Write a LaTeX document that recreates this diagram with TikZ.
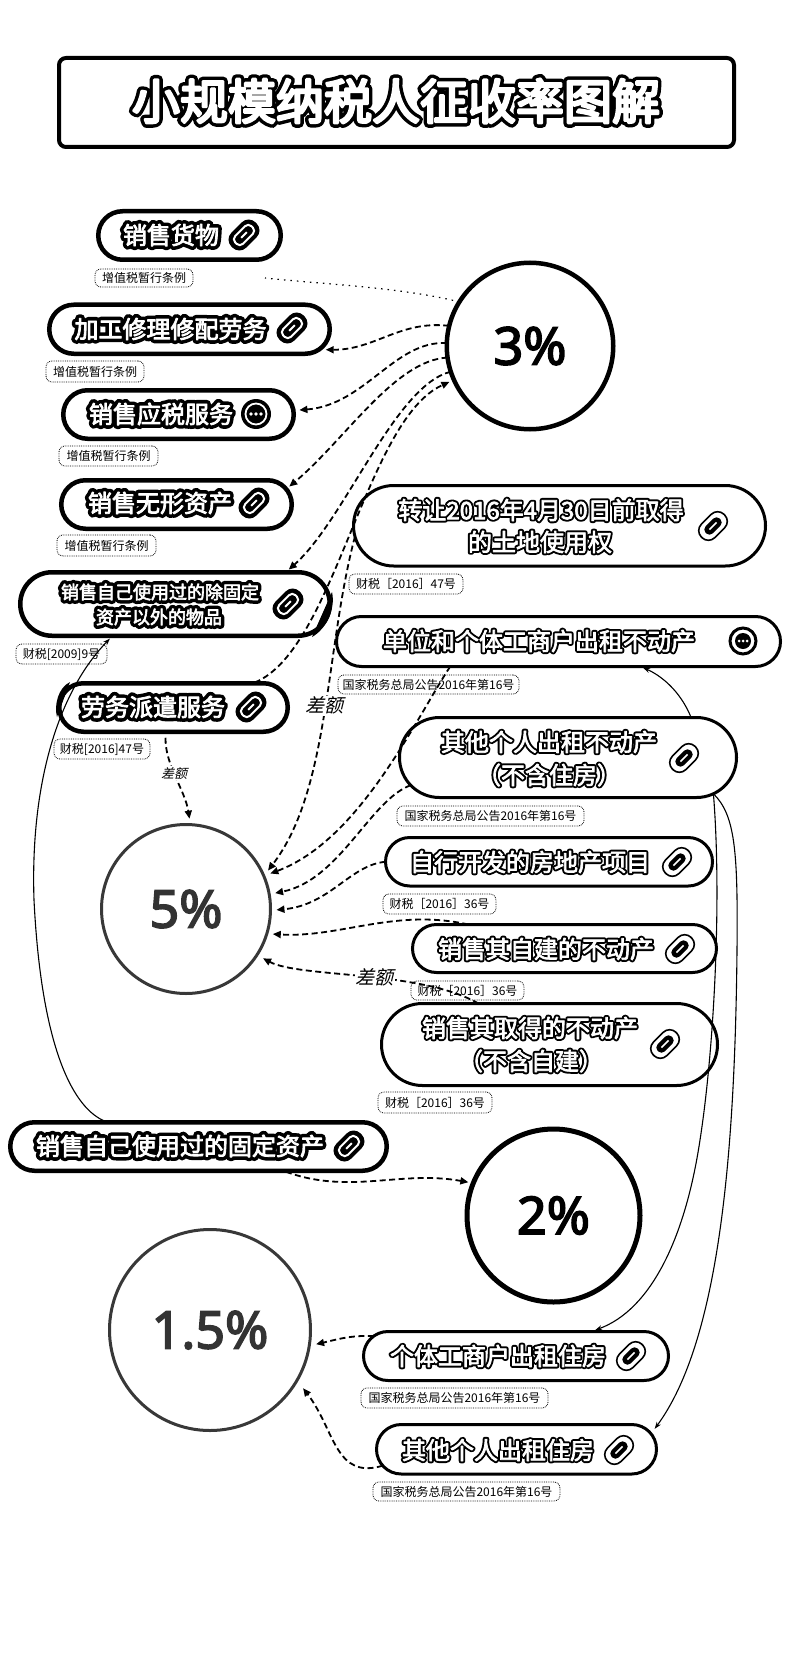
\documentclass[tikz,border=0pt]{standalone}
\usepackage{fontspec}
\usetikzlibrary{shapes.misc,arrows.meta}
\setmainfont{Noto Sans CJK SC}
\newfontfamily\slantcjk[FakeSlant=0.25]{Noto Sans CJK SC}
\newfontfamily\pctfont{Noto Sans}
% halo text: size, black stroke width, white stroke width, text
\newcommand{\htxt}[4]{{\fontsize{#1}{#1}\selectfont\leavevmode\rlap{\special{pdf:code q 2 Tr #2 w 1 j 1 J 0 0 0 RG 0 0 0 rg}#4\special{pdf:code Q}}\special{pdf:code q 2 Tr #3 w 1 j 1 J 1 1 1 RG 1 1 1 rg}#4\special{pdf:code Q}}}
\newcommand{\ltxt}[1]{\htxt{24}{8}{0.8}{#1}}
\newcommand{\lstxt}[1]{\htxt{18}{7.5}{0.6}{#1}}
\newcommand{\rtxt}[1]{\htxt{24}{4.6}{0.7}{#1}}
\newcommand{\pct}[2]{{\pctfont\fontsize{52}{52}\selectfont\special{pdf:code q 2 Tr 1.6 w #1 G #1 g}#2\special{pdf:code Q}}}
\tikzset{
 pillbox/.style={draw=black,rounded rectangle,rounded rectangle arc length=180,inner sep=0pt,outer sep=0pt,fill=none},
 txt/.style={inner sep=0pt,outer sep=0pt,anchor=center},
 sublab/.style={draw=black,line width=0.8pt,densely dotted,rounded corners=6pt,inner sep=0pt,outer sep=0pt,font=\fontsize{12}{12}\selectfont},
 rate/.style={draw=black,circle,inner sep=0pt,outer sep=0pt,fill=none},
 dconn/.style={draw=black,line width=1.8pt,dash pattern=on 6pt off 3.5pt,-{Triangle[length=8pt,width=7pt]}},
 sconn/.style={draw=black,line width=1.1pt,-{Stealth[length=7pt,width=5pt]}},
 tag/.style={inner sep=1pt,outer sep=0pt,fill=white,font=\slantcjk\fontsize{19}{19}\selectfont},
 pics/linka/.style={code={
  \fill[black,rotate=45,rounded corners=9.5pt] (-17,-10.5) rectangle (17,10.5);
  \draw[white,line width=2pt,rotate=45,rounded corners=4.5pt] (-11.5,-5.5) rectangle (11.5,5.5);
  \draw[white,line width=2pt,rotate=45] (-4,0) -- (4,0);}},
 pics/linkb/.style={code={
  \draw[black,line width=1.6pt,fill=white,rotate=45,rounded corners=9pt] (-16,-9.5) rectangle (16,9.5);
  \fill[black,rotate=45,rounded corners=4.5pt] (-10,-5) rectangle (10,5);
  \draw[white,line width=1.6pt,rotate=45] (-5,0) -- (5,0);}},
 pics/dotsa/.style={code={
  \fill[black] (0,0) circle (15);
  \draw[white,line width=1.8pt] (0,0) circle (10.5);
  \foreach \q in {-5,0,5} {\fill[white] (\q,0) circle (1.8);}}},
 pics/dotsb/.style={code={
  \draw[black,line width=3pt] (0,0) circle (13);
  \fill[black] (0,0) circle (8);
  \foreach \q in {-4,0,4} {\fill[white] (\q,0) circle (1.5);}}},
}
\newcommand{\pill}[6]{\pgfmathsetmacro\pw{#4-#2-#6}\pgfmathsetmacro\ph{#5-#3-#6}\node[pillbox,line width=#6pt,minimum width=\pw pt,minimum height=\ph pt] (#1) at ({(#2+#4)/2},{(#3+#5)/2}) {};}
\newcommand{\sub}[6]{\pgfmathsetmacro\pw{#4-#2}\pgfmathsetmacro\ph{#5-#3}\node[sublab,minimum width=\pw pt,minimum height=\ph pt] (#1) at ({(#2+#4)/2},{(#3+#5)/2}) {\rule{0pt}{0pt}#6};}
\begin{document}
\begin{tikzpicture}[x=1pt,y=-1pt]
\useasboundingbox (0,0) rectangle (800,1661);
\fill[white] (0,0) rectangle (800,1661);
% title
\node[draw=black,line width=4pt,rounded corners=7pt,minimum width=675pt,minimum height=89pt,inner sep=0pt,outer sep=0pt] (title) at (396.5,102.5) {};
\node[txt] (titletext) at (396,101) {\htxt{48}{9.5}{2.6}{小规模纳税人征收率图解}};
% left pills
\pill{a}{96}{209}{283}{262}{4.5}
\node[txt] (at) at (171,235) {\ltxt{销售货物}};
\pic at (244,235) {linka};
\sub{as}{95}{269}{193}{287}{增值税暂行条例}
\pill{b}{47}{302.5}{332}{356}{4.5}
\node[txt] (bt) at (170.5,329) {\ltxt{加工修理修配劳务}};
\pic at (292,328) {linka};
\sub{bs}{46}{361}{144}{382}{增值税暂行条例}
\pill{c}{61}{388}{296}{441}{4.5}
\node[txt] (ct) at (161,414) {\ltxt{销售应税服务}};
\pic at (256,414) {dotsa};
\sub{cs}{59}{446}{158}{466}{增值税暂行条例}
\pill{d}{59}{478}{294}{531}{4.5}
\node[txt] (dt) at (160,503) {\ltxt{销售无形资产}};
\pic at (254,503) {linka};
\sub{ds}{57}{535}{156}{556}{增值税暂行条例}
\pill{e}{18}{570}{332}{638}{4.5}
\node[txt] (et1) at (160,592) {\lstxt{销售自己使用过的除固定}};
\node[txt] (et2) at (159,617) {\lstxt{资产以外的物品}};
\pic at (288,604) {linka};
\sub{es}{16}{644}{107}{664}{财税[2009]9号}
\pill{f}{57}{681}{290}{734}{4.5}
\node[txt] (ft) at (153,707) {\ltxt{劳务派遣服务}};
\pic at (251,707) {linka};
\sub{fs}{54}{739}{150}{759}{财税[2016]47号}
\pill{m}{8}{1120}{389}{1173}{4.5}
\node[txt] (mt) at (180,1146) {\ltxt{销售自己使用过的固定资产}};
\pic at (349,1146) {linka};
% right pills
\pill{g}{352}{484}{767}{567.5}{3}
\node[txt] (gt1) at (541,510) {\rtxt{转让2016年4月30日前取得}};
\node[txt] (gt2) at (540,542) {\rtxt{的土地使用权}};
\pic at (713,526) {linkb};
\sub{gs}{349}{574}{463}{594}{财税［2016］47号}
\pill{h}{335}{615}{782}{668}{3}
\node[txt] (ht) at (539,641) {\rtxt{单位和个体工商户出租不动产}};
\pic at (743,641) {dotsb};
\sub{hs}{338}{675}{519}{694}{国家税务总局公告2016年第16号}
\pill{i}{398}{716}{738}{799}{3}
\node[txt] (it1) at (549,742) {\rtxt{其他个人出租不动产}};
\node[txt] (it2) at (549,775) {\rtxt{（不含住房）}};
\pic at (684,758) {linkb};
\sub{is}{397}{806}{584}{826}{国家税务总局公告2016年第16号}
\pill{j}{384}{836}{714}{887.5}{3}
\node[txt] (jt) at (530,862) {\rtxt{自行开发的房地产项目}};
\pic at (677,862) {linkb};
\sub{js}{383}{894}{496}{914}{财税［2016］36号}
\pill{k}{411}{923}{718}{974}{3}
\node[txt] (kt) at (546,949) {\rtxt{销售其自建的不动产}};
\pic at (680,949) {linkb};
\sub{ks}{411}{981}{524}{1000}{财税［2016］36号}
\pill{l}{380}{1002}{719}{1087}{3}
\node[txt] (lt1) at (530,1028) {\rtxt{销售其取得的不动产}};
\node[txt] (lt2) at (531,1061) {\rtxt{（不含自建）}};
\pic at (665,1044) {linkb};
\sub{ls}{378}{1092}{492}{1113}{财税［2016］36号}
\pill{n}{362}{1330}{670}{1382}{3}
\node[txt] (nt) at (498,1356) {\rtxt{个体工商户出租住房}};
\pic at (631,1356) {linkb};
\sub{ns}{361}{1388}{548}{1408}{国家税务总局公告2016年第16号}
\pill{o}{375}{1423}{658}{1475.5}{3}
\node[txt] (ot) at (498,1450) {\rtxt{其他个人出租住房}};
\pic at (619,1450) {linkb};
\sub{os}{373}{1482}{560}{1501}{国家税务总局公告2016年第16号}
% rate circles
\node[rate,line width=4.5pt,minimum size=166.5pt] (c3) at (530,346) {\pct{0}{3\%}};
\node[rate,line width=3pt,draw=black!78,minimum size=169pt] (c5) at (186,909) {\pct{0.2}{5\%}};
\node[rate,line width=5pt,minimum size=173pt] (c2) at (553.5,1215.5) {\pct{0}{2\%}};
\node[rate,line width=3pt,draw=black!78,minimum size=201pt] (c15) at (210,1330) {\pct{0.2}{1.5\%}};
% crescents where connectors meet the pills
\fill[black] (332,592) .. controls (336,610) and (325,630) .. (312,637) -- cycle;
\fill[black] (70,682) .. controls (58,688) and (54,705) .. (57,717) -- cycle;
% connectors from 3%
\coordinate (afree) at (265,278);
\draw[black,line width=1.2pt,dash pattern=on 1.5pt off 5pt] (c3.148) .. controls (400,287) and (320,284) .. (afree);
\draw[dconn] (c3.166) .. controls (400,320) and (375,350) .. ([xshift=7pt]b.-9);
\draw[dconn,shorten >=6pt] (c3.178) .. controls (395,340) and (365,405) .. (c.2);
\draw[dconn,shorten >=4pt] (c3.188) .. controls (395,360) and (345,440) .. (d.8);
\draw[dconn,shorten >=4pt] (c3.198) .. controls (395,385) and (345,520) .. (e.16);
\draw[dconn,shorten <=2pt,shorten >=5pt] (f.17) .. controls (335,650) and (365,420) .. (c3.204);
% connectors to 5%
\draw[dconn,shorten >=7pt] (g.183) .. controls (325,650) and (330,790) .. node[tag,pos=0.47] (tagg) {差额} (c5.23);
\draw[dconn,shorten >=7pt] (h.193) .. controls (415,720) and (360,840) .. (c5.23);
\draw[dconn,shorten >=6pt] (i.190) .. controls (370,800) and (340,880) .. (c5.10);
\draw[dconn,shorten >=6pt] (j.180) .. controls (350,865) and (330,905) .. (c5.-1);
\draw[dconn,shorten >=6pt] (k.166) .. controls (395,908) and (340,938) .. (c5.-17);
\draw[dconn,shorten >=7pt] (l.150) .. controls (420,970) and (300,978) .. node[tag,pos=0.45] (tagl) {差额} (c5.-33);
\draw[dconn,shorten <=6pt,shorten >=6pt] (f.252) .. controls (165,765) and (185,790) .. node[tag,pos=0.45,font=\slantcjk\fontsize{13}{13}\selectfont] (tagf) {差额} (c5.87);
% other dashed
\draw[dconn,shorten <=3pt,shorten >=5pt] (m.-16) .. controls (350,1195) and (400,1170) .. (c2.158);
\draw[dconn,shorten >=7pt] (n.172) .. controls (350,1335) and (335,1340) .. (c15.-9);
\draw[dconn,shorten >=10pt] (o.187) .. controls (335,1480) and (335,1430) .. (c15.-30);
% thin solid connectors
\draw[sconn,shorten >=4pt] (m.165) .. controls (78,1113) and (42,1060) .. (34,900) .. controls (30,780) and (60,690) .. (e.207);
\draw[sconn,shorten >=3pt] (i.18.6) .. controls (680,690) and (660,675) .. (h.-17);
\draw[sconn,shorten >=4pt] (i.-14) .. controls (722,900) and (714,1050) .. (700,1140) .. controls (685,1240) and (650,1310) .. (n.18);
\draw[sconn] (i.-14) .. controls (735,815) and (738,850) .. (737,950) .. controls (735,1150) and (720,1340) .. ([xshift=9pt]o.9);
\end{tikzpicture}
\end{document}
